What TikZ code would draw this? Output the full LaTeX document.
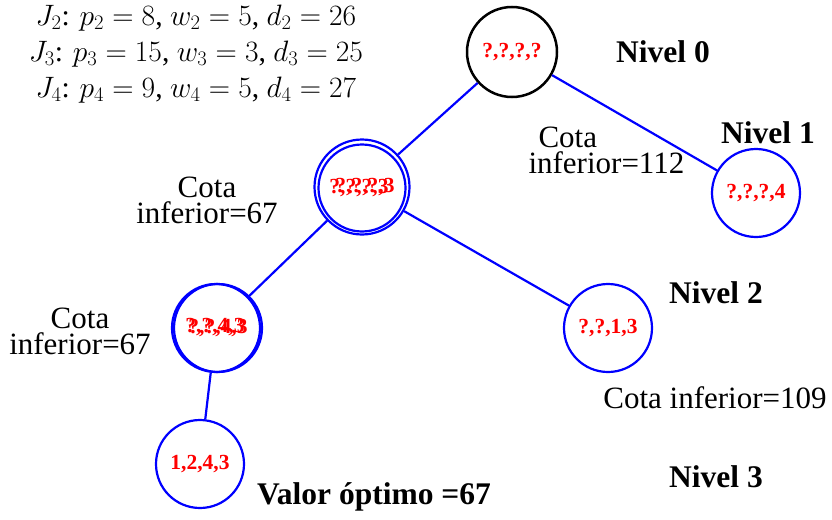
\documentclass[tikz,border=0pt]{standalone}
\usepackage{fix-cm}
\usepackage{fontspec}
\setmainfont{Liberation Serif}
\usetikzlibrary{positioning}

\begin{document}
\begin{tikzpicture}[
    x=1pt, y=-1pt,
    nodo/.style={circle, draw=blue, line width=2.2pt, inner sep=0pt, minimum size=88pt, text=red, font=\fontsize{21.5}{22}\selectfont\bfseries},
    etiq/.style={text=red, font=\fontsize{21.5}{22}\selectfont\bfseries},
    nivel/.style={font=\fontsize{31.5}{32}\selectfont\bfseries},
    cota/.style={font=\fontsize{31}{26}\selectfont, align=center},
    rama/.style={draw=blue, line width=2.2pt}
]
    \useasboundingbox (0,0) rectangle (832,519);
    \node [align=center, font=\fontsize{29.5}{36}\selectfont] (datos) at (196,54) {$J_2$: $p_2=8$, $w_2=5$, $d_2=26$\\$J_3$: $p_3=15$, $w_3=3$, $d_3=25$\\$J_4$: $p_4=9$, $w_4=5$, $d_4=27$};
    % arbol
    \node [nodo, draw=black, line width=2.5pt, minimum size=90pt] (raiz) at (512,52) {?,?,?,?};
    \node [nodo, minimum size=95pt] (n1) at (362,187) {};
    \node [nodo, minimum size=87pt] (n1b) at (362,188) {};
    \node [etiq] (n1t) at (359,188) {?,?,?,3};
    \node [etiq] (n1u) at (365,187) {?,?,?,3};
    \node [nodo] (n2) at (756,193) {?,?,?,4};
    \node [nodo] (n3) at (216,328) {};
    \node [nodo] (n3b) at (218,328) {};
    \node [etiq] (n3t) at (215,327) {?,?,4,3};
    \node [etiq] (n3u) at (218,328) {?,?,4,3};
    \node [nodo] (n4) at (608,328) {?,?,1,3};
    \node [nodo] (n5) at (200,464) {1,2,4,3};
    \draw [rama] (raiz) -- (n1);
    \draw [rama] (raiz) -- (n2);
    \draw [rama] (n1) -- (n3);
    \draw [rama] (n1) -- (n4);
    \draw [rama] (n3) -- (n5);
    % niveles
    \node [nivel] (niv0) at (663,52) {Nivel 0};
    \node [nivel] (niv1) at (768,133) {Nivel 1};
    \node [nivel] (niv2) at (716,293) {Nivel 2};
    \node [nivel] (niv3) at (716,477) {Nivel 3};
    % cotas
    \node [cota, align=left, anchor=west] (c112) at (525,150) {\hspace*{10pt}Cota\\inferior=112};
    \node [cota] (c67a) at (207,200) {Cota\\inferior=67};
    \node [cota] (c67b) at (80,331) {Cota\\inferior=67};
    \node [cota] (c109) at (715,398) {Cota inferior=109};
    \node [nivel] (optimo) at (374,497) {Valor óptimo =67};
\end{tikzpicture}
\end{document}
